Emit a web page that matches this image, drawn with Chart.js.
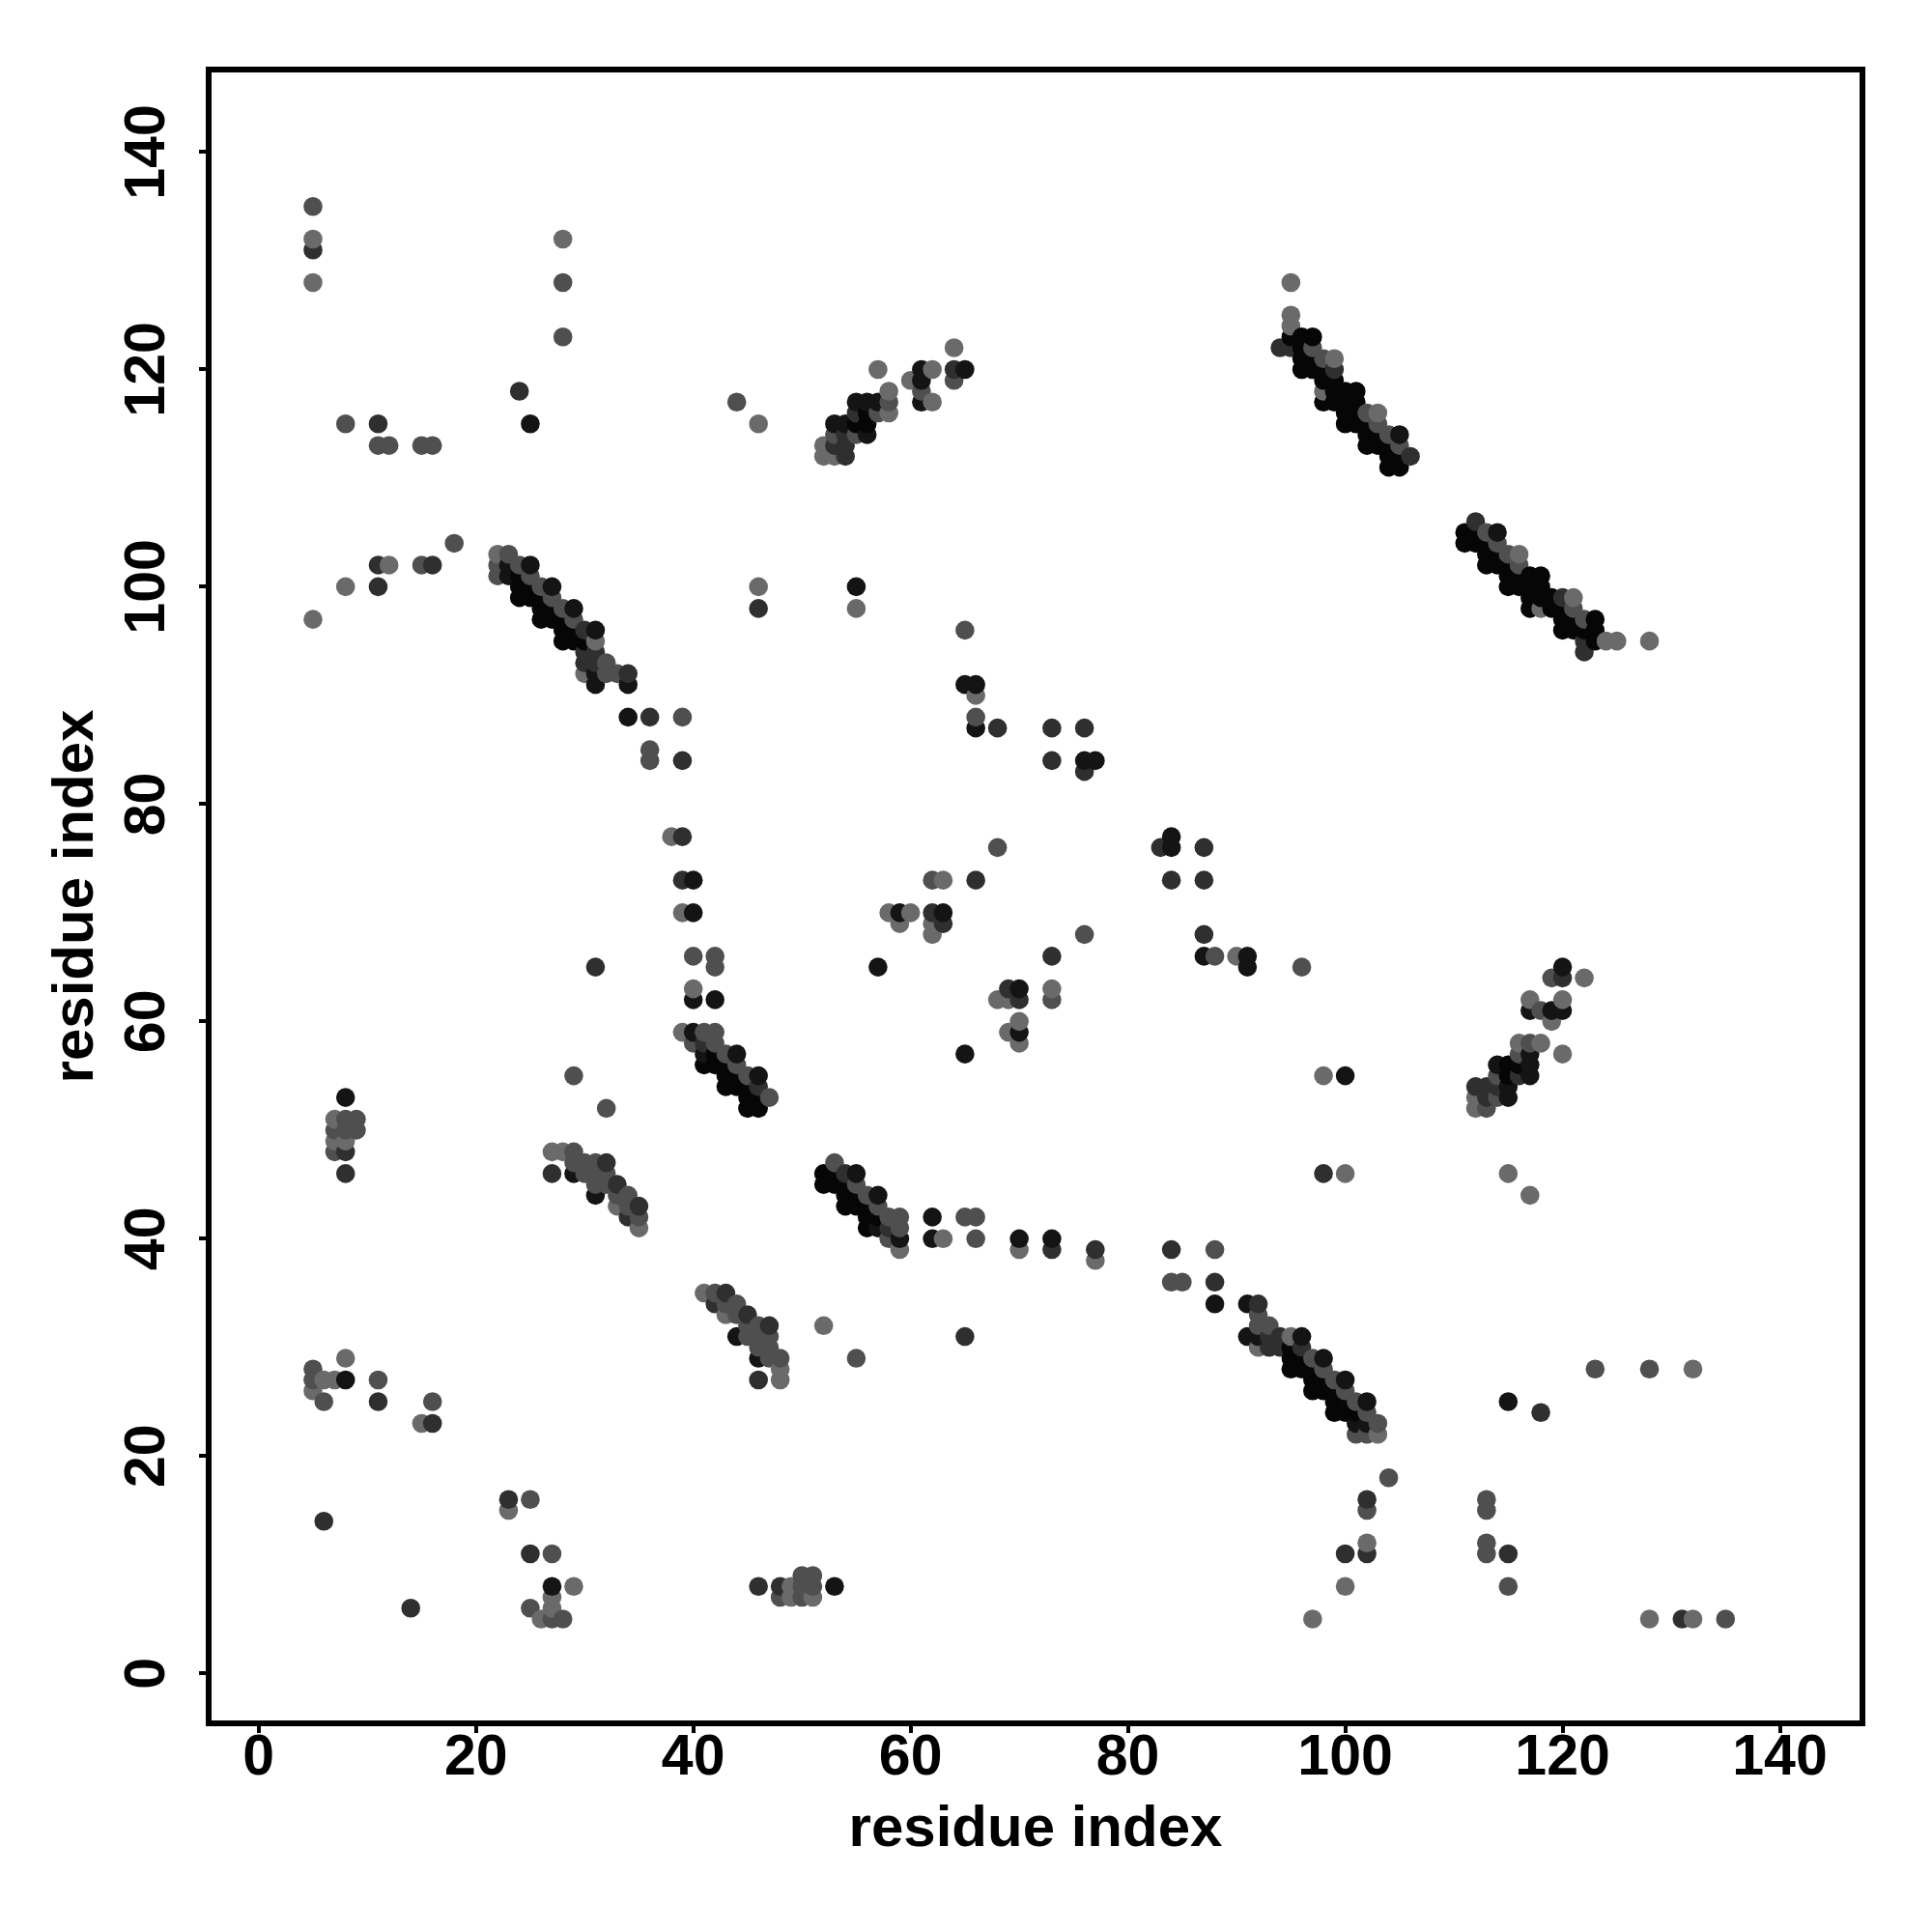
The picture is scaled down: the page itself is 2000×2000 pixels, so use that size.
<!DOCTYPE html>
<html>
<head>
<meta charset="utf-8">
<style>
  html, body { margin: 0; padding: 0; background: #fff; }
  #wrap { width: 2000px; height: 2000px; }
</style>
<script src="https://cdn.jsdelivr.net/npm/chart.js@4/dist/chart.umd.min.js"></script>
</head>
<body>
<div id="wrap"><canvas id="contactMap" width="2000" height="2000"></canvas></div>
<script>
const tickValues = [0, 20, 40, 60, 80, 100, 120, 140];

// contacts as [i, j], grouped by grey level
const deepPairs = [
  [95,30],[95,29],[96,29],[95,28],[96,28],[97,28],[97,27],[98,27],[97,26],[98,26],[99,26],[99,25],[100,25],[99,24],[100,24],[101,24],
  [30,95],[29,95],[29,96],[28,95],[28,96],[28,97],[27,97],[27,98],[26,97],[26,98],[26,99],[25,99],[25,100],[24,99],[24,100],[24,101],
  [95,123],[96,123],[97,123],[96,122],[96,121],[96,120],[97,121],[97,120],[98,120],[98,119],[98,117],[99,119],[99,118],[99,117],[100,118],[101,118],
  [100,117],[100,116],[100,115],[101,117],[101,116],[101,115],[102,115],[102,114],[102,113],[103,114],[103,113],[104,113],[104,112],[104,111],[105,112],[105,111],
  [123,95],[123,96],[123,97],[122,96],[121,96],[120,96],[121,97],[120,97],[120,98],[119,98],[117,98],[119,99],[118,99],[117,99],[118,100],[118,101],
  [117,100],[116,100],[115,100],[117,101],[116,101],[115,101],[115,102],[114,102],[113,102],[114,103],[113,103],[113,104],[112,104],[111,104],[112,105],[111,105],
  [41,56],[42,57],[42,56],[43,56],[43,55],[43,54],[44,55],[44,54],[45,54],[45,53],[45,52],[46,53],[46,52],
  [56,41],[57,42],[56,42],[56,43],[55,43],[54,43],[55,44],[54,44],[54,45],[53,45],[52,45],[53,46],[52,46],
  [55,115],[56,115],[56,116],[115,55],[115,56],[116,56]
];
const blackPairs = [
  [91,34],[91,31],[92,31],[96,31],[98,29],[100,27],[102,25],[101,23],[102,23],
  [34,91],[31,91],[31,92],[31,96],[29,98],[27,100],[25,102],[23,101],[23,102],
  [105,114],[114,105],
  [40,59],[41,57],[44,57],[46,55],[59,40],[57,41],[57,44],[55,46],
  [53,115],[54,115],[55,117],[56,117],[57,117],[61,117],[61,119],[61,120],[65,120],[56,114],
  [115,53],[115,54],[117,55],[117,56],[117,57],[117,61],[119,61],[120,61],[120,65],[114,56],
  [8,27],[27,8],[25,115],[115,25],[8,53],[53,8],[34,88],[88,34],
  [40,73],[73,40],[40,70],[70,40],[40,62],[62,40],[42,62],[62,42],
  [55,100],[100,55],[57,65],[65,57],[65,91],[91,65],[66,91],[91,66],[66,87],[87,66],
  [76,84],[84,76],[77,84],[84,77],[59,70],[70,59],[63,70],[70,63],
  [29,46],[46,29],[31,44],[44,31]
];
const darkPairs = [
  [92,34],[93,31],[94,31],[93,30],[94,30],[96,30],[34,92],[31,93],[31,94],[30,93],[30,94],[30,96],
  [94,122],[95,122],[99,120],[106,112],[122,94],[122,95],[120,99],[112,106],
  [41,58],[46,54],[58,41],[54,46],
  [27,46],[32,47],[33,45],[34,42],[35,43],[46,27],[47,32],[45,33],[42,34],[43,35],
  [53,113],[54,113],[54,112],[55,116],[64,120],[54,114],[113,53],[113,54],[112,54],[116,55],[120,64],[114,54],
  [5,131],[131,5],[11,25],[25,11],[16,23],[23,16],[6,14],[14,6],
  [11,100],[100,11],[11,102],[102,11],[16,102],[102,16],[11,115],[115,11],[24,118],[118,24],
  [8,46],[46,8],[8,48],[48,8],[31,65],[65,31],[36,88],[88,36],[39,84],[84,39],
  [39,77],[77,39],[39,73],[73,39],[46,98],[98,46],
  [68,87],[87,68],[73,87],[87,73],[76,87],[87,76],[73,84],[84,73],[76,83],[83,76],
  [62,70],[70,62],[63,69],[69,63],[66,73],[73,66]
];
const midPairs = [
  [92,33],[92,32],[93,32],[97,29],[98,28],[99,27],[100,26],[101,25],[102,24],[103,23],[101,22],[102,22],
  [33,92],[32,92],[32,93],[29,97],[28,98],[27,99],[26,100],[25,101],[24,102],[23,103],[22,101],[22,102],
  [97,122],[98,121],[102,116],[103,115],[104,114],[105,113],[122,97],[121,98],[116,102],[115,103],[114,104],[113,105],
  [41,59],[42,59],[40,58],[42,58],[43,57],[44,56],[45,55],[47,53],[59,41],[59,42],[58,40],[58,42],[57,43],[56,44],[55,45],[53,47],
  [29,48],[29,47],[30,47],[31,47],[30,46],[31,46],[32,46],[31,45],[32,45],[33,44],[34,44],[34,43],[35,42],
  [48,29],[47,29],[47,30],[47,31],[46,30],[46,31],[46,32],[45,31],[45,32],[44,33],[44,34],[43,34],[42,35],
  [53,114],[55,114],[57,116],[58,117],[61,118],[64,119],[114,53],[114,55],[116,57],[117,58],[118,61],[119,64],[113,52],
  [5,135],[135,5],[5,28],[28,5],[5,27],[27,5],[6,25],[25,6],[11,27],[27,11],[16,25],[25,16],
  [15,102],[102,15],[18,104],[104,18],[8,115],[115,8],[11,113],[113,11],[12,113],[113,12],[15,113],[113,15],[16,113],[113,16],
  [28,128],[128,28],[28,123],[123,28],
  [8,51],[51,8],[9,51],[51,9],[7,50],[50,7],[8,50],[50,8],[9,50],[50,9],[7,48],[48,7],
  [29,55],[55,29],[32,52],[36,84],[84,36],[36,85],[85,36],[39,88],[88,39],[40,66],[66,40],[42,66],[66,42],[42,65],[65,42],
  [65,96],[96,65],[66,88],[88,66],[62,73],[73,62],[68,76],[76,68],[44,117]
];
const lightPairs = [
  [95,31],[92,30],[103,22],[31,95],[30,92],[22,103],
  [95,128],[95,125],[95,124],[99,121],[98,118],[103,116],[128,95],[125,95],[124,95],[121,99],[118,98],[116,103],
  [39,59],[59,39],[27,48],[28,48],[35,41],[33,43],[48,27],[48,28],[41,35],[43,33],
  [52,112],[52,113],[53,112],[58,116],[58,118],[57,120],[60,119],[62,117],[62,120],[64,122],
  [112,52],[112,53],[116,58],[118,58],[120,57],[119,60],[117,62],[120,62],[122,64],
  [5,132],[132,5],[5,128],[128,5],[5,97],[97,5],[5,26],[26,5],[6,27],[27,6],[7,27],[27,7],[8,29],[29,8],[15,23],[23,15],
  [8,100],[100,8],[12,102],[102,12],[28,132],[132,28],[7,51],[51,7],[7,49],[49,7],[8,49],[49,8],
  [52,32],[38,77],[77,38],[39,70],[70,39],[40,63],[63,40],[46,115],[115,46],[117,44],[46,100],[100,46],[55,98],[98,55],
  [66,90],[90,66],[58,70],[70,58],[59,69],[69,59],[60,70],[70,60],[63,73],[73,63],[62,68],[68,62],[62,69],[69,62]
];

const shadeGroups = [
  { pairs: deepPairs, color: '#060606' },
  { pairs: blackPairs, color: '#141414' },
  { pairs: darkPairs, color: '#2f2f2f' },
  { pairs: midPairs, color: '#4f4f4f' },
  { pairs: lightPairs, color: '#6a6a6a' }
];

// the original plots column by column, so later residues sit on top
const contacts = [];
shadeGroups.forEach(group => {
  group.pairs.forEach(pair => {
    contacts.push({ x: pair[0], y: pair[1], color: group.color });
  });
});
contacts.sort((a, b) => a.x - b.x || a.y - b.y);

const frame = {
  id: 'frame',
  afterDraw(chart) {
    const { ctx, chartArea } = chart;
    ctx.save();
    ctx.strokeStyle = '#000';
    ctx.lineWidth = 6;
    ctx.strokeRect(chartArea.left, chartArea.top, chartArea.right - chartArea.left, chartArea.bottom - chartArea.top);
    ctx.restore();
  }
};

function useFixedTicks(axis) {
  axis.ticks = tickValues.map(value => ({ value }));
}

const tickFont = { family: 'Liberation Sans', size: 59, weight: 'bold' };
const titleFont = { family: 'Liberation Sans', size: 60, weight: 'bold' };
const tickGrid = { drawOnChartArea: false, drawTicks: true, tickLength: 10, color: '#000', lineWidth: 4 };

new Chart(document.getElementById('contactMap'), {
  type: 'scatter',
  data: {
    datasets: [{
      data: contacts,
      pointRadius: 9.8,
      pointBorderWidth: 0,
      pointBackgroundColor: contacts.map(c => c.color)
    }]
  },
  options: {
    responsive: false,
    animation: false,
    layout: { padding: { top: 72, right: 72, left: 0, bottom: 0 } },
    plugins: { legend: { display: false }, tooltip: { enabled: false } },
    scales: {
      x: {
        type: 'linear',
        min: -4.6,
        max: 147.6,
        afterBuildTicks: useFixedTicks,
        afterFit(axis) { axis.height = 216; },
        grid: tickGrid,
        border: { display: false },
        ticks: { color: '#000', font: tickFont, padding: -9, maxRotation: 0, autoSkip: false },
        title: { display: true, text: 'residue index', color: '#000', font: titleFont, padding: { top: 0, bottom: 70 } }
      },
      y: {
        type: 'linear',
        min: -4.6,
        max: 147.6,
        afterBuildTicks: useFixedTicks,
        afterFit(axis) { axis.width = 216; },
        grid: tickGrid,
        border: { display: false },
        ticks: { color: '#000', font: tickFont, padding: 3, minRotation: 90, maxRotation: 90, crossAlign: 'center', autoSkip: false },
        title: { display: true, text: 'residue index', color: '#000', font: titleFont, padding: { top: 43, bottom: 0 } }
      }
    }
  },
  plugins: [frame]
});
</script>
</body>
</html>
